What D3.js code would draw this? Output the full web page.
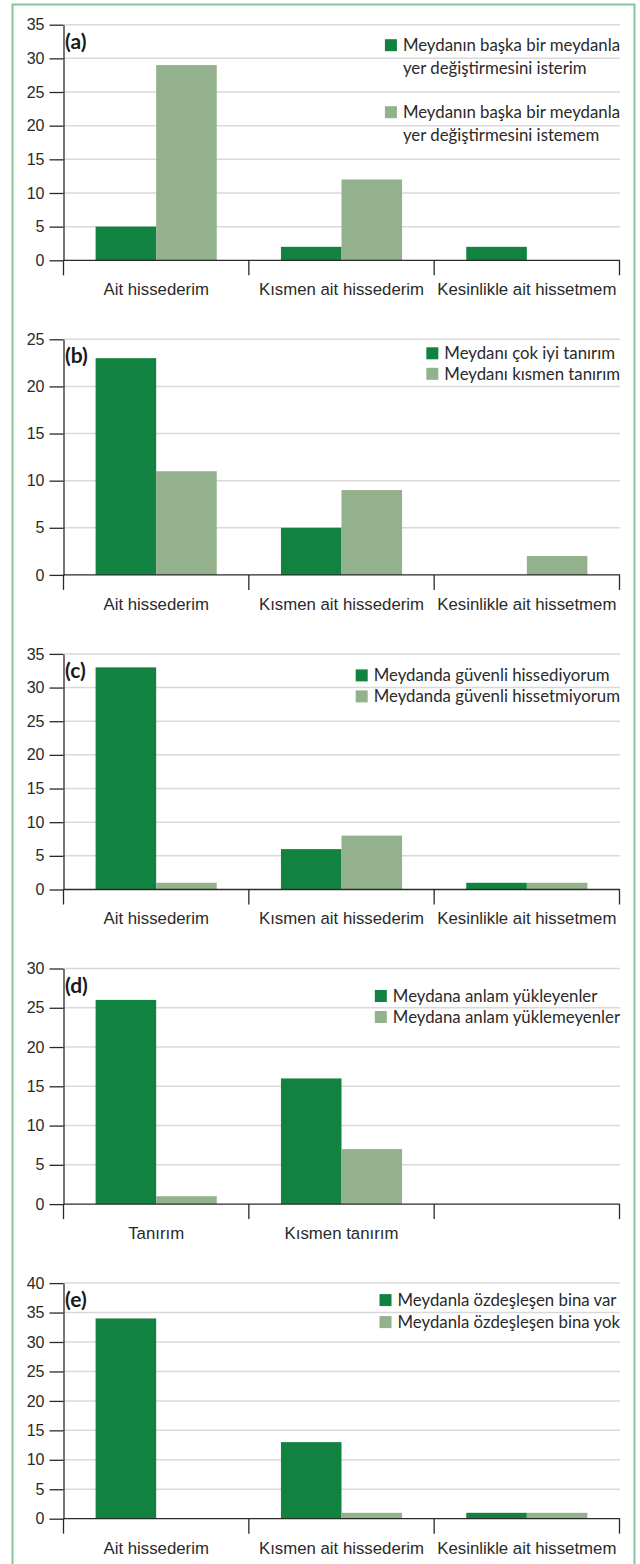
<!DOCTYPE html>
<html>
<head>
<meta charset="utf-8">
<script src="https://cdn.jsdelivr.net/npm/d3@7"></script>
<style>
  body { margin: 0; background: #fff; }
  svg { display: block; font-family: Lato, "Noto Sans", sans-serif; }
</style>
</head>
<body>
<div id="chart"></div>
<script>
// categories
const belongCats = ["Ait hissederim", "Kısmen ait hissederim", "Kesinlikle ait hissetmem"];
const knowCats = ["Tanırım", "Kısmen tanırım", " "];

// series values (dark = first legend entry, light = second)
const aDark = [5, 2, 2];
const aLight = [29, 12, 0];
const bDark = [23, 5, 0];
const bLight = [11, 9, 2];
const cDark = [33, 6, 1];
const cLight = [1, 8, 1];
const dDark = [26, 16, null];
const dLight = [1, 7, null];
const eDark = [34, 13, 1];
const eLight = [0, 1, 1];

// y tick labels
const aTicks = [0, 5, 10, 15, 20, 25, 30, 35];
const bTicks = [0, 5, 10, 15, 20, 25];
const cTicks = [0, 5, 10, 15, 20, 25, 30, 35];
const dTicks = [0, 5, 10, 15, 20, 25, 30];
const eTicks = [0, 5, 10, 15, 20, 25, 30, 35, 40];

// legend labels (lines)
const aLegend = [["Meydanın başka bir meydanla", "yer değiştirmesini isterim"], ["Meydanın başka bir meydanla", "yer değiştirmesini istemem"]];
const bLegend = [["Meydanı çok iyi tanırım"], ["Meydanı kısmen tanırım"]];
const cLegend = [["Meydanda güvenli hissediyorum"], ["Meydanda güvenli hissetmiyorum"]];
const dLegend = [["Meydana anlam yükleyenler"], ["Meydana anlam yüklemeyenler"]];
const eLegend = [["Meydanla özdeşleşen bina var"], ["Meydanla özdeşleşen bina yok"]];

const panelNames = ["(a)", "(b)", "(c)", "(d)", "(e)"];

const panels = [
  { cats: belongCats, dark: aDark, light: aLight, ticks: aTicks, legend: aLegend },
  { cats: belongCats, dark: bDark, light: bLight, ticks: bTicks, legend: bLegend },
  { cats: belongCats, dark: cDark, light: cLight, ticks: cTicks, legend: cLegend },
  { cats: knowCats, dark: dDark, light: dLight, ticks: dTicks, legend: dLegend },
  { cats: belongCats, dark: eDark, light: eLight, ticks: eTicks, legend: eLegend }
];

// legend placement per panel: first baseline offset, entry gap, line gap
const legendLayout = [
  { first: 26.5, gap: 67, line: 23 },
  { first: 20, gap: 20.5, line: 20 },
  { first: 27.5, gap: 21, line: 20 },
  { first: 33.5, gap: 21, line: 20 },
  { first: 23, gap: 22, line: 20 }
];

const W = 640, H = 1564;
const left = 63.5, right = 619.5;
const firstTop = 24.7, panelStep = 314.6, plotH = 235.6;
const darkColor = "#128241", lightColor = "#92b18c";
const textColor = "#2a2a2a";

const svg = d3.select("#chart").append("svg")
  .attr("width", W)
  .attr("height", H);

// frame
svg.append("rect")
  .attr("x", 12.5).attr("y", 4.5)
  .attr("width", 622).attr("height", 1600)
  .attr("fill", "none")
  .attr("stroke", "#86c59c")
  .attr("stroke-width", 2);

panels.forEach(function(p, i) {
  const top = firstTop + i * panelStep;
  const g = svg.append("g").attr("transform", `translate(0,${top})`);

  const y = d3.scaleLinear()
    .domain([0, d3.max(p.ticks)])
    .range([plotH, 0]);

  const x0 = d3.scaleBand()
    .domain(p.cats)
    .range([left, right]);

  const x1 = d3.scaleBand()
    .domain(["dark", "light"])
    .range([0, x0.bandwidth()])
    .paddingOuter(0.53);

  // gridlines
  g.append("g")
    .selectAll("line")
    .data(p.ticks.filter(t => t > 0))
    .enter()
    .append("line")
    .attr("x1", left).attr("x2", right + 0.5)
    .attr("y1", d => y(d)).attr("y2", d => y(d))
    .attr("stroke", "#d9d9d9")
    .attr("stroke-width", 1.5);

  // bars
  const rows = p.cats.map((c, k) => ({ cat: c, dark: p.dark[k], light: p.light[k] }));
  const groups = g.append("g")
    .selectAll("g")
    .data(rows)
    .enter()
    .append("g")
    .attr("transform", d => `translate(${x0(d.cat)},0)`);

  groups.selectAll("rect")
    .data(d => ["dark", "light"].map(k => ({ key: k, value: d[k] })).filter(v => v.value))
    .enter()
    .append("rect")
    .attr("x", d => x1(d.key))
    .attr("width", x1.bandwidth())
    .attr("y", d => y(d.value))
    .attr("height", d => plotH - y(d.value))
    .attr("fill", d => d.key === "dark" ? darkColor : lightColor);

  // y axis
  const yAxis = g.append("g")
    .attr("transform", `translate(${left},0)`)
    .call(d3.axisLeft(y).tickValues(p.ticks).tickSize(14).tickSizeOuter(0).tickPadding(5));
  yAxis.selectAll("text").style("font-size", "16px").attr("fill", textColor);
  yAxis.selectAll("line, path").attr("stroke", textColor).attr("stroke-width", 1.3);

  // baseline
  g.append("line")
    .attr("x1", left).attr("x2", right + 0.5)
    .attr("y1", plotH).attr("y2", plotH)
    .attr("stroke", textColor)
    .attr("stroke-width", 1.3);

  // category boundary ticks
  const bounds = p.cats.map(c => x0(c)).concat([right]);
  g.append("g")
    .selectAll("line")
    .data(bounds)
    .enter()
    .append("line")
    .attr("x1", d => d).attr("x2", d => d)
    .attr("y1", plotH).attr("y2", plotH + 15)
    .attr("stroke", textColor)
    .attr("stroke-width", 1.3);

  // category labels
  const xAxis = g.append("g")
    .attr("transform", `translate(0,${plotH})`)
    .call(d3.axisBottom(x0).tickSize(0).tickPadding(23));
  xAxis.select(".domain").remove();
  xAxis.selectAll("text").style("font-size", "16.8px").attr("fill", textColor);

  // panel label
  g.append("text")
    .attr("x", 65)
    .attr("y", 24)
    .style("font-size", "21px")
    .style("font-weight", "bold")
    .attr("fill", "#1a1a1a")
    .text(panelNames[i]);

  // legend
  const L = legendLayout[i];
  const leg = g.append("g");
  const entries = [];
  let base = L.first;
  p.legend.forEach(function(lines, k) {
    const texts = lines.map(function(line, j) {
      return leg.append("text")
        .attr("y", base + j * L.line)
        .style("font-size", "16.8px")
        .attr("fill", textColor)
        .text(line);
    });
    entries.push({ base: base, texts: texts, color: k === 0 ? darkColor : lightColor });
    base += L.gap;
  });
  let maxW = 0;
  entries.forEach(e => e.texts.forEach(t => { maxW = Math.max(maxW, t.node().getComputedTextLength()); }));
  const textX = right + 0.5 - maxW;
  entries.forEach(function(e) {
    e.texts.forEach(t => t.attr("x", textX));
    leg.append("rect")
      .attr("x", textX - 18)
      .attr("y", e.base - 12)
      .attr("width", 12)
      .attr("height", 12)
      .attr("fill", e.color);
  });
});
</script>
</body>
</html>
